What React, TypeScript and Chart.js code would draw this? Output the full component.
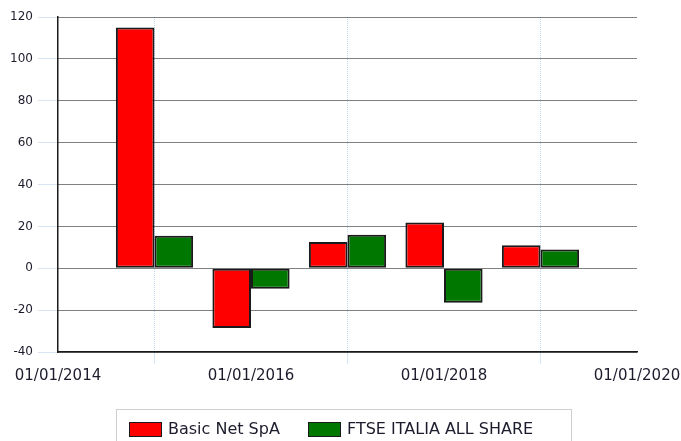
import React, { useEffect, useRef } from "react";
import { Chart, registerables } from "chart.js";

Chart.register(...registerables);

const years = [2015, 2016, 2017, 2018, 2019];
const basicNet = [115, -28.5, 12.5, 21.8, 11];
const ftse = [15.5, -9.8, 16, -16.5, 9];
const seriesNames = ["Basic Net SpA", "FTSE ITALIA ALL SHARE"];
const seriesColors = ["#ff0000", "#007800"];
const yTicks = [-40, -20, 0, 20, 40, 60, 80, 100, 120];
const xRange = [2014, 2020];

const FONT = "'DejaVu Sans', Verdana, sans-serif";

export default function App() {
  const ref = useRef<HTMLCanvasElement | null>(null);

  useEffect(() => {
    if (!ref.current) return;
    const mk = (vals: number[]) => years.map((yr, i) => ({ x: yr, y: vals[i] }));
    const chart = new Chart(ref.current, {
      type: "bar",
      data: {
        datasets: [
          {
            label: seriesNames[0],
            data: mk(basicNet),
            backgroundColor: seriesColors[0],
            borderColor: "#1a1a1a",
            borderWidth: 2,
            borderSkipped: false,
          },
          {
            label: seriesNames[1],
            data: mk(ftse),
            backgroundColor: seriesColors[1],
            borderColor: "#1a1a1a",
            borderWidth: 2,
            borderSkipped: false,
          },
        ],
      },
      options: {
        responsive: false,
        animation: false,
        devicePixelRatio: 1,
        categoryPercentage: 0.8,
        barPercentage: 1,
        layout: { padding: { top: 17, right: 44, bottom: 49, left: 0 } },
        plugins: {
          legend: { display: false },
          tooltip: { enabled: false },
        },
        scales: {
          x: {
            type: "linear",
            min: xRange[0],
            max: xRange[1],
            offset: false,
            afterFit: (s: any) => {
              s.height = 40;
              s.paddingRight = 0;
              s.paddingLeft = 0;
            },
            ticks: {
              stepSize: 2,
              autoSkip: false,
              maxRotation: 0,
              padding: 3,
              color: "#1c1c2c",
              font: { family: FONT, size: 15 },
              callback: (v: any) => "01/01/" + v,
            },
            grid: {
              color: "#c3d8ee",
              tickColor: "#d6e4f3",
              tickLength: 12,
              tickBorderDash: [],
            },
            border: { display: true, color: "#1a1a1a", width: 1.5, dash: [1, 1] },
          },
          y: {
            min: yTicks[0],
            max: yTicks[yTicks.length - 1],
            afterFit: (s: any) => {
              s.width = 58;
            },
            afterBuildTicks: (s: any) => {
              s.ticks = yTicks.map((v) => ({ value: v }));
            },
            ticks: {
              padding: 5,
              color: "#1c1c2c",
              font: { family: FONT, size: 12 },
            },
            grid: {
              color: "#000000",
              tickColor: "#d6e4f3",
              tickLength: 20,
              tickBorderDash: [],
            },
            border: { display: true, color: "#1a1a1a", width: 1.5, dash: [1, 1] },
          },
        },
      },
    });
    return () => chart.destroy();
  }, []);

  const legendItems = [
    { box: 13, text: 52 },
    { box: 192, text: 231 },
  ];

  return (
    <div style={{ position: "fixed", left: 0, top: 0, width: 681, height: 441, overflow: "hidden", background: "#fff" }}>
      <canvas ref={ref} width={681} height={441} style={{ position: "absolute", left: 0, top: 0 }} />
      <div
        style={{
          position: "absolute",
          left: 116,
          top: 409,
          width: 456,
          height: 44,
          border: "1px solid #cfcfcf",
          boxSizing: "border-box",
          fontFamily: FONT,
          fontSize: 16,
          color: "#1c1c2c",
        }}
      >
        {seriesNames.map((name, i) => (
          <React.Fragment key={name}>
            <div
              style={{
                position: "absolute",
                left: legendItems[i].box - 1,
                top: 12,
                width: 33,
                height: 15,
                background: seriesColors[i],
                border: "1px solid #1a1a1a",
                boxSizing: "border-box",
              }}
            />
            <span
              style={{
                position: "absolute",
                left: legendItems[i].text - 1,
                top: 9,
                lineHeight: "20px",
                whiteSpace: "nowrap",
              }}
            >
              {name}
            </span>
          </React.Fragment>
        ))}
      </div>
    </div>
  );
}
